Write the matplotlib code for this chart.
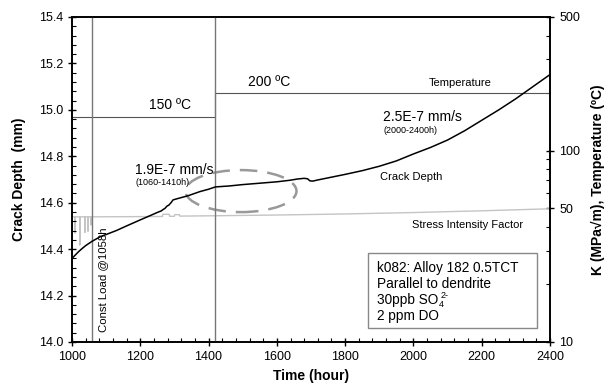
import matplotlib
matplotlib.use('Agg')
import matplotlib.pyplot as plt
from matplotlib.patches import Ellipse, Rectangle
from matplotlib.ticker import MultipleLocator, NullFormatter, LogLocator
from matplotlib.transforms import offset_copy

plt.rcParams['font.family'] = ['Liberation Sans', 'DejaVu Sans']

# crack depth (mm) vs time (hour)
crack_time = [1000, 1010, 1020, 1030, 1040, 1050, 1058, 1070, 1085, 1100, 1130, 1160, 1200, 1230,
              1250, 1262, 1266, 1272, 1278, 1284, 1290, 1296, 1310, 1340, 1375, 1400, 1420, 1460,
              1500, 1550, 1600, 1640, 1660, 1680, 1690, 1697, 1705, 1720, 1750, 1800, 1850, 1900,
              1950, 2000, 2050, 2100, 2150, 2200, 2250, 2300, 2350, 2400]
crack_depth = [14.36, 14.375, 14.39, 14.403, 14.415, 14.425, 14.433, 14.443, 14.455, 14.463, 14.48,
               14.5, 14.526, 14.545, 14.558, 14.565, 14.57, 14.575, 14.585, 14.59, 14.6, 14.612,
               14.618, 14.63, 14.648, 14.658, 14.668, 14.672, 14.678, 14.684, 14.69, 14.697, 14.702,
               14.705, 14.703, 14.694, 14.693, 14.698, 14.707, 14.722, 14.738, 14.757, 14.78, 14.81,
               14.838, 14.87, 14.91, 14.955, 15.0, 15.048, 15.1, 15.152]

# temperature (C)
temp_time = [1000, 1420, 1420, 2400]
temp_val = [150, 150, 200, 200]

# stress intensity factor K (MPa*sqrt(m))
k_time = [1000, 1009, 1009, 1009, 1023, 1023, 1023, 1038, 1038, 1038, 1047, 1047, 1047, 1056, 1056,
          1056, 1265, 1266, 1285, 1286, 1300, 1301, 1315, 1316, 1420, 1600, 1800, 2000, 2200, 2400]
k_val = [45.1, 45.1, 37.2, 45.1, 45.1, 32.2, 45.1, 45.1, 37.5, 45.1, 45.1, 38.0, 45.1, 45.1, 41.0,
         45.1, 45.3, 46.5, 46.5, 45.4, 45.4, 46.3, 46.3, 45.5, 45.7, 46.1, 46.7, 47.5, 48.5, 49.7]

const_load_time = 1058
temp_step_time = 1420

fig = plt.figure(figsize=(6.12, 3.88), dpi=100)
ax = fig.add_axes([0.1176, 0.1186, 0.7811, 0.8376])
ax2 = ax.twinx()

# right axis: log scale
ax2.set_yscale('log')
ax2.set_ylim(10, 500)
ax2.plot(temp_time, temp_val, color='#555555', lw=0.8)
ax2.plot(k_time, k_val, color='#c4c4c4', lw=1.0)
ax2.set_yticks([10, 50, 100, 500])
ax2.set_yticklabels(['10', '50', '100', '500'])
ax2.yaxis.set_minor_locator(LogLocator(subs=range(2, 10)))
ax2.yaxis.set_minor_formatter(NullFormatter())
ax2.set_ylabel('K (MPa\u221am), Temperature (ºC)', fontsize=10, fontweight='bold', labelpad=8)

# left axis
ax.set_zorder(ax2.get_zorder() + 1)
ax.patch.set_visible(False)
ax.axvline(const_load_time, color='#777777', lw=1.0)
ax.axvline(temp_step_time, color='#777777', lw=1.0)
ax.plot(crack_time, crack_depth, color='black', lw=1.1)
ax.add_patch(Ellipse((1495, 14.65), 325, 0.181, fill=False, edgecolor='#999999', lw=1.8,
                     linestyle=(0, (7, 4))))
ax.set_xlim(1000, 2400)
ax.set_ylim(14.0, 15.4)
ax.xaxis.set_major_locator(MultipleLocator(200))
ax.xaxis.set_minor_locator(MultipleLocator(40))
ax.yaxis.set_major_locator(MultipleLocator(0.2))
ax.yaxis.set_minor_locator(MultipleLocator(0.04))
ax.yaxis.set_major_formatter(plt.FormatStrFormatter('%.1f'))
ax.set_xlabel('Time (hour)', fontsize=10, fontweight='bold', labelpad=4)
ax.set_ylabel('Crack Depth  (mm)', fontsize=10, fontweight='bold', labelpad=9)

for a in (ax, ax2):
    a.tick_params(which='major', direction='inout', length=6, labelsize=9, width=1)
    a.tick_params(which='minor', direction='in', length=3, width=0.8)
    for s in a.spines.values():
        s.set_linewidth(1.2)

# annotations
ax.text(1287, 15.021, '150 ºC', fontsize=10, ha='center', va='center')
ax.text(1577, 15.12, '200 ºC', fontsize=10, ha='center', va='center')
ax.text(2136, 15.116, 'Temperature', fontsize=8, ha='center', va='center')
ax.text(1910, 14.97, '2.5E-7 mm/s', fontsize=10, ha='left', va='center')
ax.text(1912, 14.913, '(2000-2400h)', fontsize=6.5, ha='left', va='center')
ax.text(1184, 14.741, '1.9E-7 mm/s', fontsize=10, ha='left', va='center')
ax.text(1186, 14.685, '(1060-1410h)', fontsize=6.5, ha='left', va='center')
ax.text(1993, 14.71, 'Crack Depth', fontsize=8, ha='center', va='center')
ax.text(2158, 14.504, 'Stress Intensity Factor', fontsize=8, ha='center', va='center')
ax.text(1090, 14.044, 'Const Load @1058h', fontsize=8.2, rotation=90, ha='center', va='bottom')

# info box
ax.add_patch(Rectangle((0.619, 0.043), 0.354, 0.231, transform=ax.transAxes, fill=False,
                       edgecolor='#888888', lw=1.0))
box_lines = ['k082: Alloy 182 0.5TCT', 'Parallel to dendrite', '30ppb SO', '2 ppm DO']
box_y = [0.2166, 0.1674, 0.1169, 0.0677]
box_texts = [ax.text(0.638, yy, line, transform=ax.transAxes, fontsize=9.8, ha='left', va='baseline')
             for line, yy in zip(box_lines, box_y)]

# subscript 4 and superscript 2- after "SO"
fig.canvas.draw()
bb = box_texts[2].get_window_extent().transformed(ax.transAxes.inverted())
ax.text(bb.x1 + 0.001, box_y[2], '4', transform=offset_copy(ax.transAxes, fig, y=-2.5, units='points'),
        fontsize=6.5, ha='left', va='baseline')
ax.text(bb.x1 + 0.005, box_y[2], '2-', transform=offset_copy(ax.transAxes, fig, y=4.5, units='points'),
        fontsize=6.5, ha='left', va='baseline')

fig.savefig('out.png', dpi=100)
